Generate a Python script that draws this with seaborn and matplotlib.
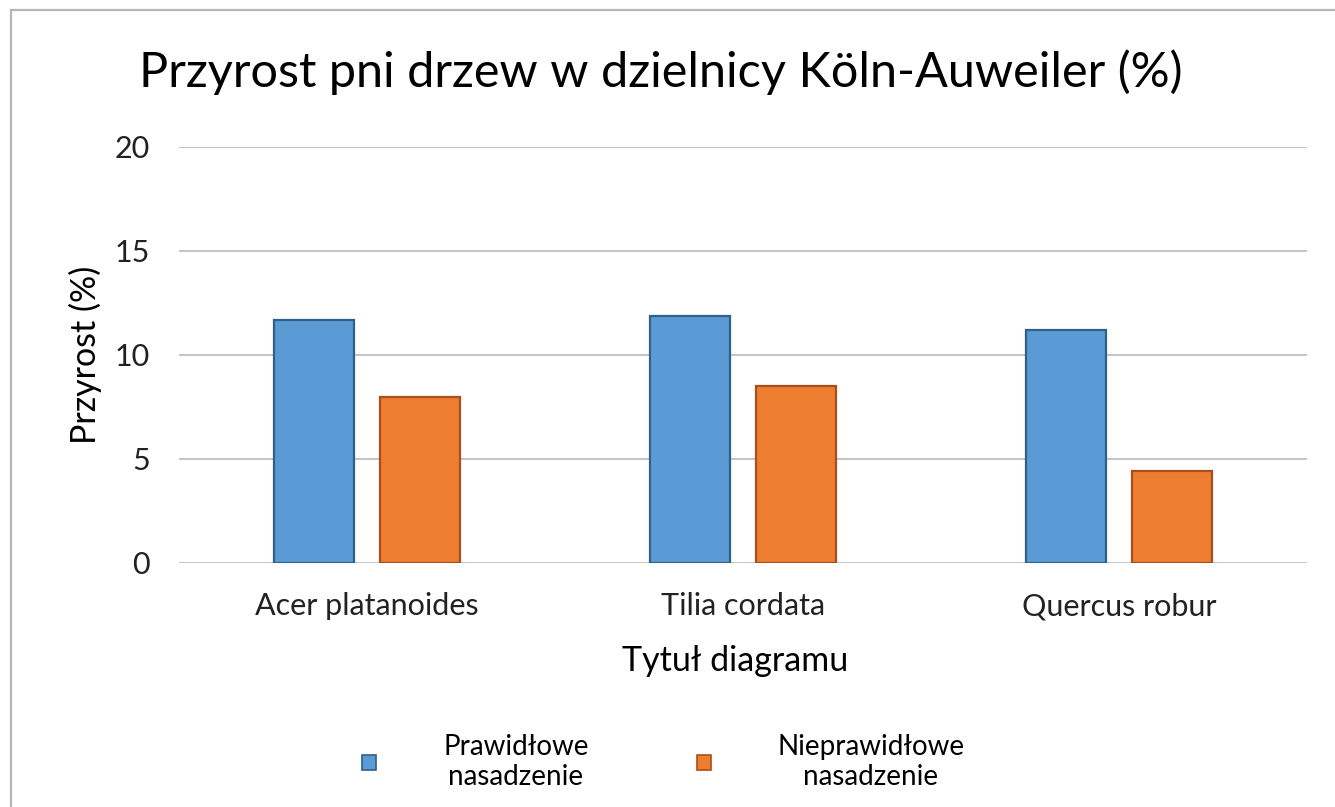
import pandas as pd
import seaborn as sns
import matplotlib.pyplot as plt
from matplotlib.patches import Patch, Rectangle

# Data
species = ['Acer platanoides', 'Tilia cordata', 'Quercus robur']
prawidlowe = [11.7, 11.85, 11.2]
nieprawidlowe = [8.0, 8.5, 4.4]
groups = ['Prawidłowe\nnasadzenie', 'Nieprawidłowe\nnasadzenie']
colors = ['#5b9bd5', '#ed7d31']
edges = ['#2f5f8a', '#a9501a']

df = pd.DataFrame({
    'gatunek': species * 2,
    'grupa': [groups[0]] * 3 + [groups[1]] * 3,
    'przyrost': prawidlowe + nieprawidlowe,
})

sns.set_style('white')
plt.rcParams['font.family'] = ['Lato', 'DejaVu Sans']
plt.rcParams['text.color'] = 'black'
plt.rcParams['axes.labelcolor'] = 'black'

fig = plt.figure(figsize=(13.35, 8.07), dpi=100)
ax = fig.add_axes([0.134, 0.3024, 0.845, 0.5155])

# Figure border (chart frame)
fig.patches.append(Rectangle((11 / 1335, -0.05), 1.1, (807 - 10) / 807 + 0.05,
                             transform=fig.transFigure, fill=False,
                             edgecolor='#b5b5b5', linewidth=1.6))

sns.barplot(data=df, x='gatunek', y='przyrost', hue='grupa', palette=colors,
            saturation=1, width=0.564, gap=0.25, ax=ax, legend=False, zorder=3)
for cont, ec in zip(ax.containers, edges):
    for bar in cont:
        bar.set_edgecolor(ec)
        bar.set_linewidth(1.6)

ax.set_ylim(0, 20)
ax.set_xlim(-0.5, 2.5)
ax.set_yticks([0, 5, 10, 15, 20])
ax.yaxis.grid(True, color='#bfbfbf', linewidth=1.3, zorder=0)
ax.set_axisbelow(True)
sns.despine(ax=ax, left=True, bottom=True)
ax.tick_params(axis='both', length=0, labelsize=22, colors='#222222', pad=21)

ax.set_xlabel('Tytuł diagramu', fontsize=24.5)
ax.set_ylabel('Przyrost (%)', fontsize=24.5)
ax.xaxis.set_label_coords(0.493, -0.197)
ax.yaxis.set_label_coords(-0.068, 0.5)

fig.text(0.495, 0.911, 'Przyrost pni drzew w dzielnicy Köln-Auweiler (%)',
         fontsize=35, ha='center', va='center')

handles = [Patch(facecolor=c, edgecolor=e, linewidth=1.2) for c, e in zip(colors, edges)]
leg = ax.legend(handles, groups, loc='center', bbox_to_anchor=(0.497, 0.056),
                bbox_transform=fig.transFigure, ncol=2, frameon=False,
                fontsize=20, handlelength=0.5, handleheight=0.5,
                handletextpad=2.4, columnspacing=3.9)
for t in leg.get_texts():
    t.set_multialignment('center')

fig.savefig('out.png', dpi=100)
